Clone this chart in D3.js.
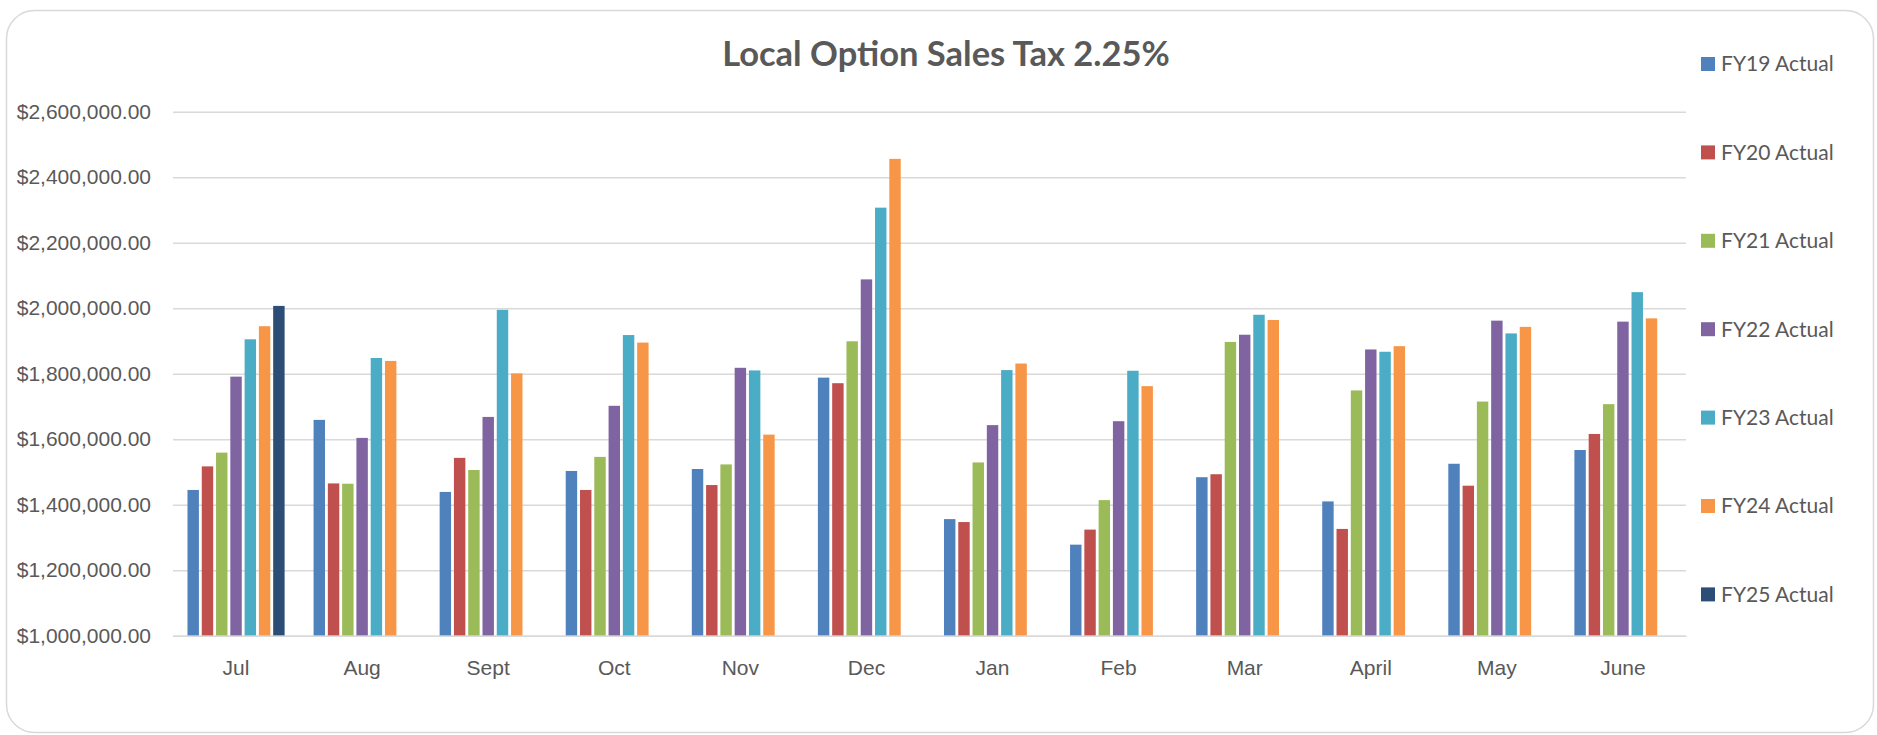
<!DOCTYPE html>
<html lang="en">
  <head>
    <meta charset="UTF-8" />
    <title>Local Option Sales Tax 2.25%</title>
    <style>
      body {
        margin: 0;
        background: #fff;
      }
      svg {
        font-family: Lato, "Open Sans", sans-serif;
      }
      .grid line {
        stroke: #d9d9d9;
        stroke-width: 1.5;
      }
      .grid .domain {
        display: none;
      }
      .axis text {
        fill: #595959;
        font-size: 21px;
      }
      .legend text {
        fill: #595959;
        font-size: 21px;
      }
    </style>
  </head>
  <body>
    <div id="container"></div>
  </body>
  <script src="https://cdnjs.cloudflare.com/ajax/libs/d3/7.8.5/d3.min.js"></script>
  <script>
    // months on the x axis
    let months = ["Jul", "Aug", "Sept", "Oct", "Nov", "Dec", "Jan", "Feb", "Mar", "April", "May", "June"];
    let seriesNames = ["FY19 Actual", "FY20 Actual", "FY21 Actual", "FY22 Actual", "FY23 Actual", "FY24 Actual", "FY25 Actual"];
    let colors = ["#4f81bd", "#c0504d", "#9bbb59", "#8064a2", "#4bacc6", "#f79646", "#2c4d75"];

    let fy19 = [1445000, 1659000, 1439000, 1503000, 1509000, 1788000, 1356000, 1278000, 1484000, 1410000, 1525000, 1567000];
    let fy20 = [1517000, 1465000, 1543000, 1445000, 1460000, 1771000, 1347000, 1324000, 1493000, 1326000, 1458000, 1616000];
    let fy21 = [1559000, 1464000, 1506000, 1546000, 1523000, 1899000, 1529000, 1414000, 1897000, 1749000, 1715000, 1707000];
    let fy22 = [1791000, 1604000, 1668000, 1702000, 1818000, 2088000, 1643000, 1655000, 1919000, 1874000, 1962000, 1959000];
    let fy23 = [1905000, 1848000, 1995000, 1918000, 1810000, 2307000, 1811000, 1809000, 1980000, 1867000, 1923000, 2049000];
    let fy24 = [1945000, 1839000, 1801000, 1895000, 1614000, 2456000, 1831000, 1762000, 1964000, 1884000, 1943000, 1969000];
    let fy25 = [2007000, null, null, null, null, null, null, null, null, null, null, null];

    let yTicks = [1000000, 1200000, 1400000, 1600000, 1800000, 2000000, 2200000, 2400000, 2600000];

    let allSeries = [fy19, fy20, fy21, fy22, fy23, fy24, fy25];

    let width = 1877,
      height = 735,
      plot = { left: 173, right: 1686, top: 111.7, bottom: 635.7 };

    let svg = d3
      .select("#container")
      .append("svg")
      .attr("width", width)
      .attr("height", height);

    // chart frame
    svg
      .append("rect")
      .attr("x", 6.5)
      .attr("y", 10.5)
      .attr("width", 1867)
      .attr("height", 722)
      .attr("rx", 28)
      .attr("fill", "#fff")
      .attr("stroke", "#d9d9d9")
      .attr("stroke-width", 1.5);

    let x0 = d3
      .scaleBand()
      .domain(months)
      .range([plot.left, plot.right])
      .paddingInner(0.207)
      .paddingOuter(0.1035);

    let x1 = d3
      .scaleBand()
      .domain(seriesNames)
      .range([0, x0.bandwidth()])
      .paddingInner(0.2)
      .paddingOuter(0.1);

    let y = d3
      .scaleLinear()
      .domain([1000000, 2600000])
      .range([plot.bottom, plot.top]);

    // gridlines + y labels
    let yAxis = d3
      .axisLeft(y)
      .tickValues(yTicks)
      .tickFormat(d3.format("$,.2f"))
      .tickSize(-(plot.right - plot.left))
      .tickPadding(22);

    svg
      .append("g")
      .attr("class", "grid axis")
      .attr("transform", `translate(${plot.left},0)`)
      .call(yAxis);

    // bars
    let groups = svg
      .selectAll(".month")
      .data(months)
      .enter()
      .append("g")
      .attr("class", "month")
      .attr("transform", (d) => `translate(${x0(d)},0)`);

    groups
      .selectAll("rect")
      .data((m, i) =>
        allSeries
          .map((s, k) => ({ name: seriesNames[k], color: colors[k], value: s[i] }))
          .filter((d) => d.value != null)
      )
      .enter()
      .append("rect")
      .attr("x", (d) => x1(d.name))
      .attr("width", x1.bandwidth())
      .attr("y", (d) => y(d.value))
      .attr("height", (d) => y(1000000) - y(d.value))
      .attr("fill", (d) => d.color);

    // x axis labels
    let xAxis = d3.axisBottom(x0).tickSize(0).tickPadding(24);
    let gx = svg
      .append("g")
      .attr("class", "axis")
      .attr("transform", `translate(0,${plot.bottom})`)
      .call(xAxis);
    gx.select(".domain").attr("stroke", "#d9d9d9").attr("stroke-width", 1.5);

    // title
    svg
      .append("text")
      .text("Local Option Sales Tax 2.25%")
      .attr("x", 946)
      .attr("y", 66)
      .attr("text-anchor", "middle")
      .attr("fill", "#595959")
      .attr("font-size", 34.5)
      .attr("font-weight", "bold");

    // legend
    let legend = svg
      .append("g")
      .attr("class", "legend")
      .selectAll("g")
      .data(seriesNames)
      .enter()
      .append("g")
      .attr("transform", (d, i) => `translate(1701,${64 + i * 88.4})`);

    legend
      .append("rect")
      .attr("x", 0)
      .attr("y", -7)
      .attr("width", 14)
      .attr("height", 14)
      .attr("fill", (d, i) => colors[i]);

    legend
      .append("text")
      .attr("x", 20)
      .attr("dy", "0.35em")
      .text((d) => d);
  </script>
</html>
